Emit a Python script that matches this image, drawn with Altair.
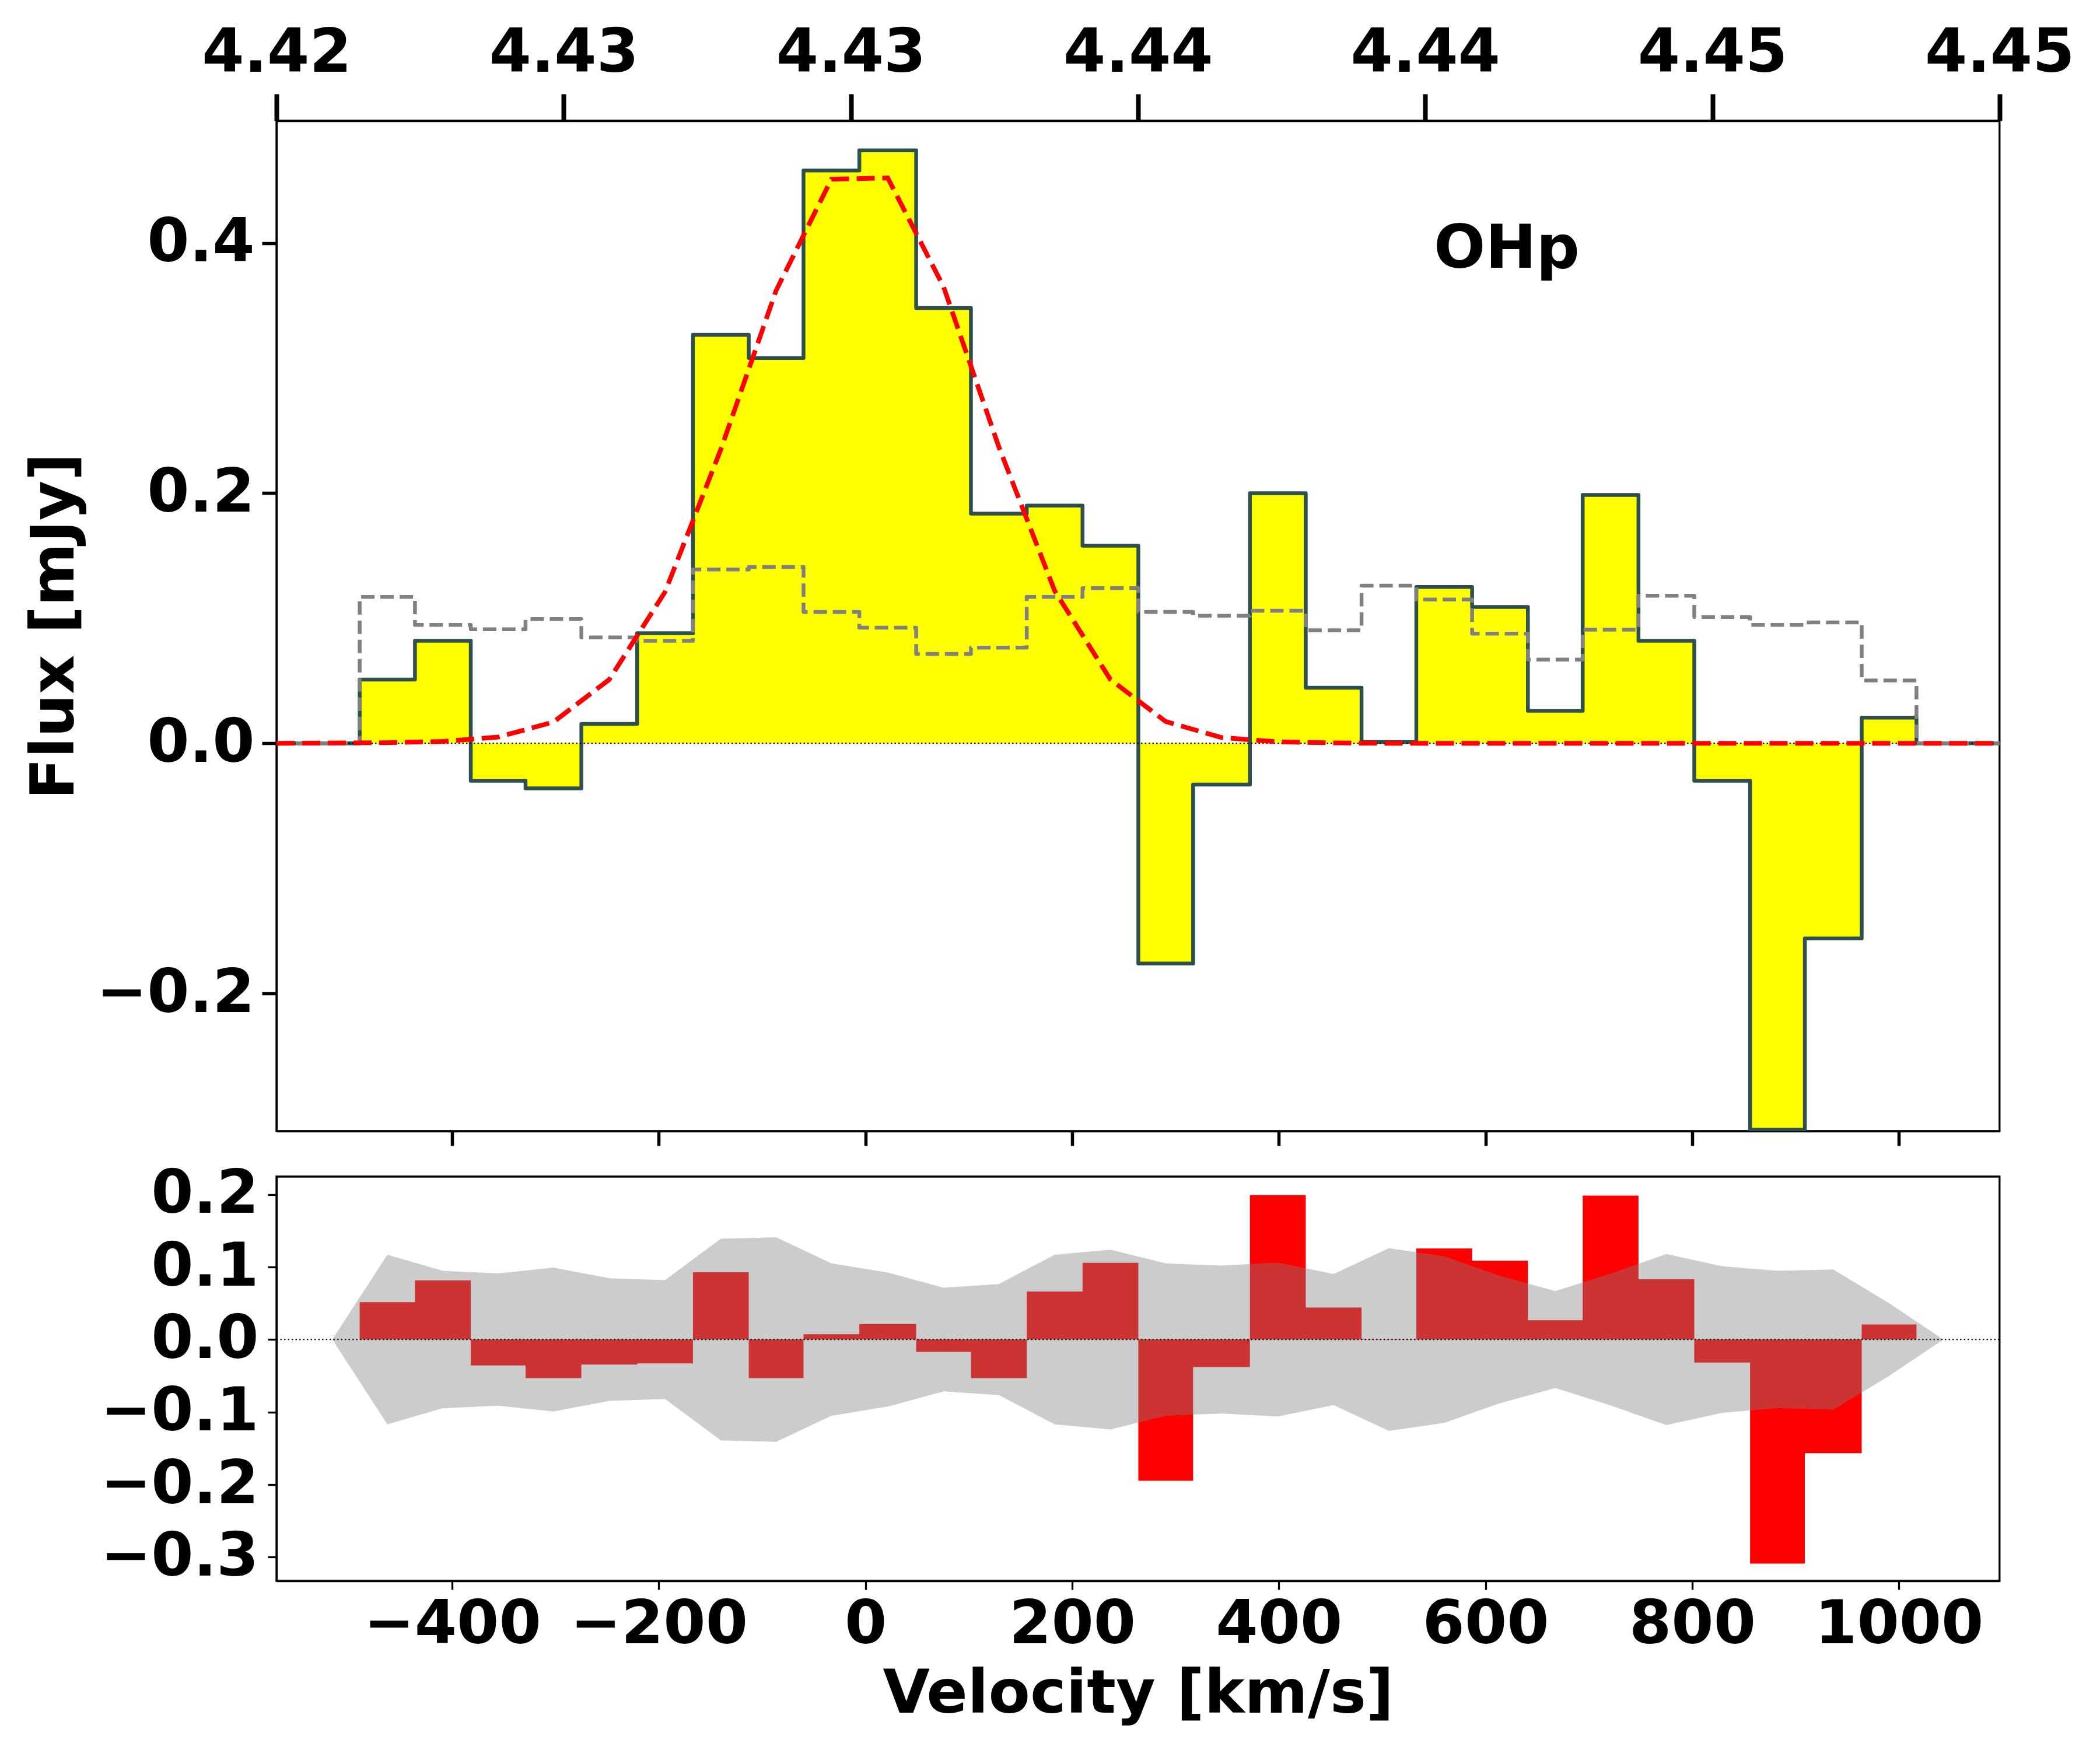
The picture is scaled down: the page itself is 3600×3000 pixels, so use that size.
import altair as alt
import pandas as pd

# bin edges of the spectrum [km/s]
edges = [-489.5, -436, -382, -329, -275, -221, -167, -113, -60, -6, 49, 102, 156,
         210, 264, 317, 372, 426, 480, 533, 587, 641, 694, 748, 802, 856, 909, 964, 1017]
# flux per bin [mJy]
flux = [0.051, 0.082, -0.030, -0.036, 0.0155, 0.088, 0.3266, 0.308, 0.458, 0.474, 0.348, 0.1836, 0.190, 0.158,
        -0.176, -0.033, 0.200, 0.0444, 0.001, 0.125, 0.109, 0.026, 0.1986, 0.082, -0.030, -0.309, -0.156, 0.0205]
# noise per bin
noise = [0.117, 0.0947, 0.0912, 0.0993, 0.0846, 0.082, 0.139, 0.141, 0.105, 0.0924, 0.0715, 0.0765, 0.117, 0.124,
         0.105, 0.102, 0.106, 0.0904, 0.126, 0.115, 0.0877, 0.0669, 0.0908, 0.118, 0.101, 0.0947, 0.0966, 0.0502]
# gaussian fit, read at bin centers
model = [0.0005, 0.0015, 0.005, 0.017, 0.051, 0.121, 0.235, 0.362, 0.451, 0.452, 0.365, 0.237, 0.122, 0.051,
         0.0174, 0.0046, 0.0012, 0.0003, 0, 0, 0, 0, 0, 0, 0, 0, 0, 0]
# residuals
resid = [0.0515, 0.0815, -0.0357, -0.0532, -0.0345, -0.0328, 0.0928, -0.0532, 0.0074, 0.0215, -0.017, -0.0532,
         0.0662, 0.1058, -0.1947, -0.0379, 0.1992, 0.0441, 0.0005, 0.1256, 0.1087, 0.0266, 0.1986, 0.0832,
         -0.0317, -0.309, -0.1568, 0.0209]

v_min, v_max = -570, 1097.4
v_ticks = [-400, -200, 0, 200, 400, 600, 800, 1000]
z_ticks = [4.424, 4.429, 4.434, 4.439, 4.444, 4.449, 4.454]
band_start, band_end = -516, 1043

centers = [(a + b) / 2 for a, b in zip(edges[:-1], edges[1:])]

step_x = [v_min] + edges + [v_max]
steps = pd.DataFrame({'x': step_x, 'flux': [0] + flux + [0, 0], 'noise': [0] + noise + [0, 0],
                      'resid': [0] + resid + [0, 0], 'zero': 0})
fit = pd.DataFrame({'x': [v_min] + centers + [v_max], 'model': [0] + model + [0]})
band = pd.DataFrame({'x': [band_start] + centers + [band_end], 'hi': [0] + noise + [0]})
band['lo'] = -band['hi']
zero = pd.DataFrame({'x': [v_min], 'x2': [v_max], 'y': [0]})
label = pd.DataFrame({'x': [550], 'y': [0.38], 'text': ['OHp']})
top_ticks = pd.DataFrame({'z': z_ticks})

x_scale = alt.Scale(domain=[v_min, v_max], nice=False, zero=False)
y_top = alt.Scale(domain=[-0.31, 0.4977], nice=False, zero=False)
y_bot = alt.Scale(domain=[-0.3327, 0.2247], nice=False, zero=False)

x_axis_upper = alt.Axis(values=v_ticks, labels=False, grid=False, tickSize=25, tickWidth=5.5,
                        domainWidth=3.3, domainColor='black')
y_axis_upper = alt.Axis(values=[-0.2, 0, 0.2, 0.4], format='.1f', grid=False, tickSize=25, tickWidth=5.5,
                        labelPadding=13, titlePadding=126.6, domainWidth=3.3, domainColor='black')

yellow = alt.Chart(steps).mark_area(color='yellow', interpolate='step-after', clip=True).encode(
    x=alt.X('x:Q', scale=x_scale, title=None, axis=x_axis_upper),
    y=alt.Y('zero:Q', scale=y_top, title='Flux [mJy]', axis=y_axis_upper), y2='flux:Q')
outline = alt.Chart(steps).mark_line(color='darkslategray', strokeWidth=6.5, strokeJoin='round', interpolate='step-after', clip=True).encode(
    x=alt.X('x:Q', scale=x_scale), y=alt.Y('flux:Q', scale=y_top))
zero_top = alt.Chart(zero).mark_rule(color='black', strokeWidth=2, strokeDash=[2.5, 4]).encode(
    x=alt.X('x:Q', scale=x_scale), x2='x2:Q', y=alt.Y('y:Q', scale=y_top))
noise_line = alt.Chart(steps).mark_line(color='gray', strokeWidth=6.5, strokeDash=[23, 10], strokeJoin='round', interpolate='step-after').encode(
    x=alt.X('x:Q', scale=x_scale), y=alt.Y('noise:Q', scale=y_top))
fit_line = alt.Chart(fit).mark_line(color='red', strokeWidth=8, strokeDash=[31, 13]).encode(
    x=alt.X('x:Q', scale=x_scale), y=alt.Y('model:Q', scale=y_top))
ohp = alt.Chart(label).mark_text(fontSize=104, fontWeight='bold', font='DejaVu Sans', align='left', baseline='alphabetic', color='black').encode(
    x=alt.X('x:Q', scale=x_scale), y=alt.Y('y:Q', scale=y_top), text='text:N')
top_axis = alt.Chart(top_ticks).mark_point(opacity=0).encode(
    x=alt.X('z:Q', scale=alt.Scale(domain=[4.424, 4.454], nice=False, zero=False), title=None, axis=alt.Axis(
        orient='top', values=z_ticks, format='.2f', grid=False, tickSize=46, tickWidth=8, labelPadding=17,
        domainWidth=3.3, domainColor='black')),
    y=alt.value(0))

upper = alt.layer(
    alt.layer(yellow, outline, zero_top, noise_line, fit_line, ohp),
    top_axis
).resolve_scale(x='independent').properties(width=2953.8, height=1732)

red_bars = alt.Chart(steps).mark_area(color='red', interpolate='step-after').encode(
    x=alt.X('x:Q', scale=x_scale, title='Velocity [km/s]', axis=alt.Axis(
        values=v_ticks, format='d', grid=False, tickSize=15, tickWidth=3.3, labelPadding=10, titlePadding=16,
        domainWidth=3.3, domainColor='black')),
    y=alt.Y('zero:Q', scale=y_bot, title=None, axis=alt.Axis(
        values=[-0.3, -0.2, -0.1, 0, 0.1, 0.2], format='.1f', grid=False, tickSize=15, tickWidth=3.3,
        labelPadding=16, domainWidth=3.3, domainColor='black')),
    y2='resid:Q')
noise_band = alt.Chart(band).mark_area(color='gray', opacity=0.4).encode(
    x=alt.X('x:Q', scale=x_scale), y=alt.Y('hi:Q', scale=y_bot), y2='lo:Q')
zero_bot = alt.Chart(zero).mark_rule(color='black', strokeWidth=2, strokeDash=[2.5, 4]).encode(
    x=alt.X('x:Q', scale=x_scale), x2='x2:Q', y=alt.Y('y:Q', scale=y_bot))
lower = alt.layer(red_bars, noise_band, zero_bot).properties(width=2953.8, height=693)

chart = alt.vconcat(upper, lower, spacing=25).properties(
    padding={'left': 32, 'top': 29, 'right': 20, 'bottom': 10}, background='white'
).configure_view(stroke='black', strokeWidth=3.3).configure_axis(
    labelFont='DejaVu Sans', titleFont='DejaVu Sans', labelFontSize=104, titleFontSize=104,
    labelFontWeight='bold', titleFontWeight='bold', labelColor='black', titleColor='black',
    tickColor='black', labelOverlap=False, labelFlush=False, labelLimit=1000
)

chart.save("out.html", embed_options={"renderer": "svg", "actions": False})
